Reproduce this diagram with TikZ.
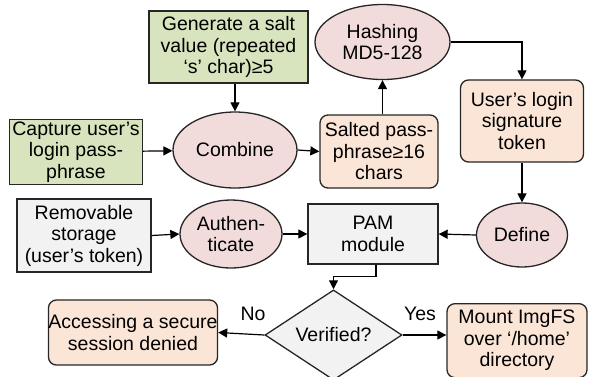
\documentclass[tikz,border=0pt]{standalone}
\usepackage{fontspec}
\setmainfont{Liberation Sans}
\usetikzlibrary{shapes.geometric,arrows.meta}
\definecolor{greenfill}{HTML}{D7E4BD}
\definecolor{pinkfill}{HTML}{F2DCDB}
\definecolor{orangefill}{HTML}{FBE5D6}
\definecolor{grayfill}{HTML}{F2F2F2}
\definecolor{edge}{HTML}{262626}
\tikzset{
  base/.style={draw=edge, line width=1.3pt, align=center, inner sep=0pt,
    font=\fontsize{19.5}{21.5}\selectfont},
  greenbox/.style={base, rectangle, fill=greenfill},
  graybox/.style={base, rectangle, fill=grayfill},
  orangebox/.style={base, rectangle, rounded corners=8pt, fill=orangefill},
  pinkell/.style={base, ellipse, fill=pinkfill},
  decision/.style={base, diamond, fill=grayfill},
  flow/.style={draw=black, line width=1.2pt, -{Triangle[width=9pt,length=9pt]}},
  lbl/.style={font=\fontsize{19.5}{21.5}\selectfont}
}
\begin{document}
\begin{tikzpicture}[x=1pt, y=-1pt]
  \useasboundingbox (0,0) rectangle (589,376);
  \fill[white] (0,0) rectangle (589,376);

  % top row
  \node[greenbox, minimum width=159pt, minimum height=72pt] (gen) at (228.5,47)
    {Generate a salt\\value (repeated\\‘s’ char)≥5};
  \node[pinkell, minimum width=135pt, minimum height=75pt] (hash) at (382.5,42)
    {Hashing\\MD5-128};

  % second row
  \node[greenbox, minimum width=133pt, minimum height=65pt] (cap) at (76,152)
    {Capture user’s\\login pass-\\phrase};
  \node[pinkell, minimum width=124pt, minimum height=76pt] (comb) at (235,150)
    {Combine};
  \node[orangebox, minimum width=118pt, minimum height=73pt] (salt) at (379,151.5)
    {Salted pass-\\phrase≥16\\chars};
  \node[orangebox, minimum width=123pt, minimum height=82pt] (user) at (522,121)
    {User’s login\\signature\\token};

  % third row
  \node[graybox, minimum width=134pt, minimum height=73pt] (rem) at (84,235.5)
    {Removable\\storage\\(user’s token)};
  \node[pinkell, minimum width=102pt, minimum height=68pt] (auth) at (231,234)
    {Authen-\\ticate};
  \node[graybox, minimum width=130pt, minimum height=60pt] (pam) at (373,234)
    {PAM\\module};
  \node[pinkell, minimum width=91pt, minimum height=64pt] (def) at (522,235)
    {Define};

  % bottom row
  \node[decision, minimum width=137pt, minimum height=74pt] (ver) at (333.5,335)
    {Verified?};
  \node[orangebox, minimum width=166pt, minimum height=65pt] (acc) at (133,332.5)
    {Accessing a secure\\session denied};
  \node[orangebox, minimum width=140pt, minimum height=74pt, anchor=north] (mount) at (517,303)
    {Mount ImgFS\\over ‘/home’\\directory};

  % connectors
  \draw[flow] (gen.south -| comb.north) -- (comb.north);
  \draw[flow] (cap) -- (comb);
  \draw[flow] (comb.east) -- (salt.west);
  \draw[flow] (salt.north -| hash.south) -- (hash.south);
  \draw[flow] (hash.east) -| (user.north);
  \draw[flow] (user.south) -- (def.north);
  \draw[flow] (def.west) -- (pam.east);
  \draw[flow] (rem.east) -- (auth.west);
  \draw[flow] (auth.east) -- (pam.west);
  \coordinate (bend) at ([xshift=3pt]pam.south);
  \draw[flow] (bend) -- ++(0,12) -| (ver.north);
  \draw[flow] (ver.west) -- (acc.east);
  \draw[flow] (ver.east) -- (mount.west |- ver.east);

  % branch labels
  \node[lbl] (no) at (253,314) {No};
  \node[lbl] (yes) at (420,314) {Yes};
\end{tikzpicture}
\end{document}
